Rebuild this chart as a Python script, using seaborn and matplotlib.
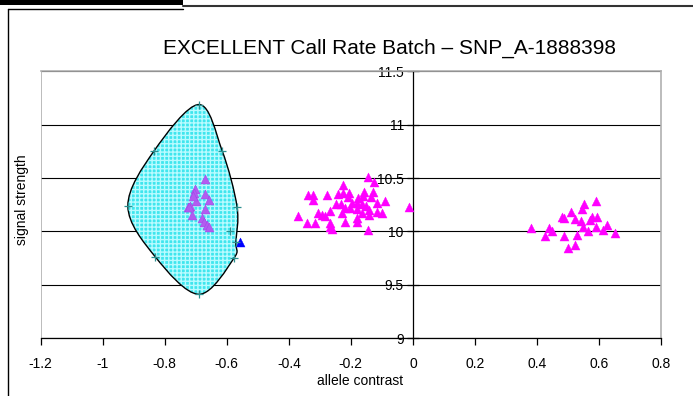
import numpy as np
import pandas as pd
import matplotlib
matplotlib.use("Agg")
import matplotlib.pyplot as plt
from matplotlib.path import Path
from matplotlib.patches import PathPatch, Rectangle
from matplotlib.lines import Line2D
import seaborn as sns

# ---------------- data ----------------
title = "EXCELLENT Call Rate Batch \u2013 SNP_A-1888398"
x_label = "allele contrast"
y_label = "signal strength"
x_ticks = [-1.2, -1.0, -0.8, -0.6, -0.4, -0.2, 0.0, 0.2, 0.4, 0.6, 0.8]
x_tick_labels = ["-1.2", "-1", "-0.8", "-0.6", "-0.4", "-0.2", "0", "0.2", "0.4", "0.6", "0.8"]
y_ticks = [9.0, 9.5, 10.0, 10.5, 11.0, 11.5]
y_tick_labels = ["9", "9.5", "10", "10.5", "11", "11.5"]

# cluster inside the ellipse region (AA)
c1_x = [-0.670, -0.702, -0.705, -0.670, -0.657, -0.699, -0.718, -0.726, -0.670,
        -0.713, -0.679, -0.673, -0.665, -0.657, -0.708, -0.722]
c1_y = [10.489, 10.395, 10.363, 10.348, 10.295, 10.285, 10.238, 10.226, 10.207,
        10.154, 10.129, 10.091, 10.060, 10.044, 10.330, 10.230]

# middle cluster (AB)
c2_x = [-0.144, -0.125, -0.224, -0.337, -0.321, -0.278, -0.240, -0.224, -0.205, -0.157,
        -0.130, -0.321, -0.208, -0.176, -0.160, -0.135, -0.090, -0.117, -0.248, -0.233,
        -0.197, -0.181, -0.165, -0.151, -0.219, -0.203, -0.179, -0.140, -0.117, -0.100,
        -0.267, -0.230, -0.305, -0.294, -0.283, -0.165, -0.140, -0.369, -0.181, -0.219,
        -0.267, -0.340, -0.316, -0.181, -0.266, -0.262, -0.144, -0.013]
c2_y = [10.513, 10.466, 10.435, 10.341, 10.341, 10.341, 10.348, 10.357, 10.357, 10.372,
        10.367, 10.295, 10.320, 10.310, 10.332, 10.326, 10.288, 10.269, 10.254, 10.254,
        10.269, 10.263, 10.254, 10.238, 10.222, 10.216, 10.207, 10.200, 10.185, 10.170,
        10.194, 10.170, 10.170, 10.154, 10.144, 10.170, 10.154, 10.144, 10.122, 10.091,
        10.076, 10.082, 10.082, 10.091, 10.044, 10.022, 10.013, 10.232]

# right cluster (BB)
c3_x = [0.590, 0.551, 0.546, 0.510, 0.480, 0.488, 0.523, 0.577, 0.593, 0.571,
        0.542, 0.548, 0.590, 0.625, 0.612, 0.566, 0.380, 0.440, 0.449, 0.652,
        0.427, 0.488, 0.528, 0.523, 0.501]
c3_y = [10.285, 10.257, 10.210, 10.185, 10.138, 10.126, 10.113, 10.138, 10.138, 10.107,
        10.095, 10.044, 10.044, 10.060, 10.013, 10.004, 10.035, 10.029, 10.007, 9.988,
        9.957, 9.957, 9.966, 9.872, 9.847]

# single blue point
blue_x = [-0.557]
blue_y = [9.90]

# region outline vertices
hull_x = [-0.690, -0.615, -0.567, -0.571, -0.577, -0.690, -0.831, -0.919, -0.834]
hull_y = [11.19, 10.757, 10.232, 9.90, 9.748, 9.41, 9.763, 10.238, 10.757]
extra_plus_x = [-0.590]
extra_plus_y = [10.007]

# ---------------- style ----------------
sns.set_style("white")
plt.rcParams["font.family"] = ["Liberation Sans", "DejaVu Sans"]
plt.rcParams["text.color"] = "black"
plt.rcParams["xtick.color"] = "black"
plt.rcParams["ytick.color"] = "black"

W, H = 693, 396
fig = plt.figure(figsize=(W / 100, H / 100), dpi=100)
fig.patch.set_facecolor("white")
ax = fig.add_axes([40.7 / W, 1 - 338 / H, (661 - 40.7) / W, (338 - 71.5) / H])
ax.set_facecolor("white")

# ---------------- region shape (smooth closed curve) ----------------
P = np.column_stack([hull_x, hull_y])
n = len(P)
verts = [P[0]]
codes = [Path.MOVETO]
for i in range(n):
    p0, p1, p2, p3 = P[i - 1], P[i], P[(i + 1) % n], P[(i + 2) % n]
    verts += [p1 + (p2 - p0) / 6.0, p2 - (p3 - p1) / 6.0, p2]
    codes += [Path.CURVE4] * 3
path = Path(verts, codes)

ax.add_patch(PathPatch(path, facecolor="#3fe6ee", edgecolor="none", zorder=2))
ax.add_patch(PathPatch(path, facecolor="none", edgecolor="#b8fbff", hatch="++++",
                       linewidth=0, zorder=2.1))
ax.add_patch(PathPatch(path, facecolor="none", edgecolor="black", linewidth=1.0, zorder=2.2))

# ---------------- points ----------------
df1 = pd.DataFrame({"x": c1_x, "y": c1_y})
df2 = pd.DataFrame({"x": c2_x + c3_x, "y": c2_y + c3_y})
dfb = pd.DataFrame({"x": blue_x, "y": blue_y})
dfp = pd.DataFrame({"x": hull_x + extra_plus_x, "y": hull_y + extra_plus_y})

sns.scatterplot(data=df2, x="x", y="y", marker="^", s=42, color="#ff00ff",
                edgecolor="#ff00ff", linewidth=0.3, ax=ax, zorder=3, legend=False)
sns.scatterplot(data=df1, x="x", y="y", marker="^", s=42, color="#b25cf0",
                edgecolor="#a040e8", linewidth=0.3, ax=ax, zorder=3, legend=False)
sns.scatterplot(data=dfb, x="x", y="y", marker="^", s=42, color="#0000ff",
                edgecolor="#0000ff", linewidth=0.3, ax=ax, zorder=3, legend=False)
sns.scatterplot(data=dfp, x="x", y="y", marker="+", s=40, color="#2a8f8f",
                linewidth=0.9, ax=ax, zorder=3, legend=False)

# ---------------- axes ----------------
ax.set_xlim(x_ticks[0], x_ticks[-1])
ax.set_ylim(y_ticks[0], y_ticks[-1])
ax.set_xticks(x_ticks)
ax.set_xticklabels(x_tick_labels)
ax.set_yticks(y_ticks)
ax.set_yticklabels(y_tick_labels)
ax.set_xlabel("")
ax.set_ylabel("")

ax.yaxis.grid(True, color="black", linewidth=0.8, zorder=1)
ax.xaxis.grid(False)
ax.set_axisbelow(True)
gl = ax.yaxis.get_gridlines()
gl[2].set_color("#7a7a7a")
gl[2].set_linewidth(1.6)
gl[-1].set_color("#a8a8a8")

ax.spines["left"].set_position(("data", 0))
ax.spines["left"].set_color("black")
ax.spines["left"].set_linewidth(0.9)
ax.spines["bottom"].set_color("black")
ax.spines["bottom"].set_linewidth(0.9)
for s in ["top", "right"]:
    ax.spines[s].set_color("#b0b0b0")
    ax.spines[s].set_linewidth(1.2)
ax.axvline(x_ticks[0], color="#b0b0b0", linewidth=1.2, zorder=1)

ax.tick_params(axis="x", direction="out", length=5, width=0.9, color="black",
               labelcolor="black", labelsize=10, pad=9, bottom=True)
ax.tick_params(axis="y", direction="inout", length=9, width=0.9, color="black",
               labelcolor="black", labelsize=10, pad=2, left=True)

# ---------------- texts ----------------
fig.text(389.5 / W, 1 - 48 / H, title, ha="center", va="center", fontsize=15, color="black")
fig.text(360 / W, 1 - 381 / H, x_label, ha="center", va="center", fontsize=10, color="black")
fig.text(22 / W, 1 - 200 / H, y_label, ha="center", va="center", fontsize=10,
         rotation=90, color="black")

# ---------------- outer frame ----------------
def px_line(x0, y0, x1, y1, **kw):
    fig.add_artist(Line2D([x0 / W, x1 / W], [1 - y0 / H, 1 - y1 / H],
                          transform=fig.transFigure, **kw))

fig.add_artist(Rectangle((0, 1 - 4.5 / H), 183 / W, 4.5 / H, transform=fig.transFigure,
                         facecolor="black", edgecolor="none"))
px_line(183, 5.5, W, 5.5, color="#333333", linewidth=1.5)
px_line(8, 9, 183, 9, color="black", linewidth=1.0)
px_line(8, 9, 8, H, color="black", linewidth=1.0)

fig.savefig("out.png", dpi=100, facecolor="white")
